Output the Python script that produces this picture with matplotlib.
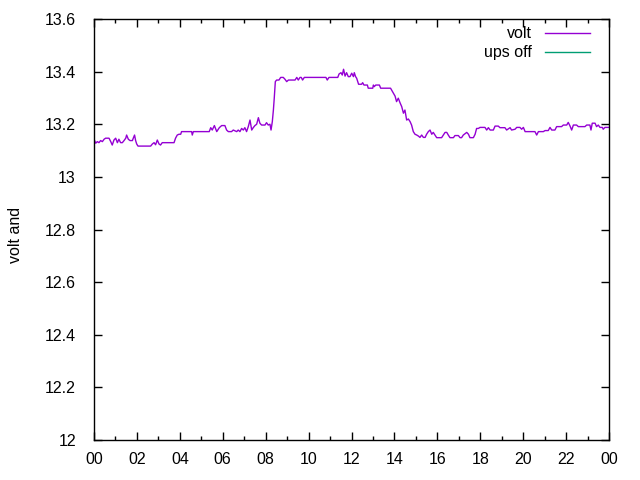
import matplotlib
matplotlib.use("Agg")
import matplotlib.pyplot as plt
from matplotlib.lines import Line2D
from matplotlib.ticker import MultipleLocator, FuncFormatter

plt.rcParams['font.family'] = ['Liberation Sans', 'DejaVu Sans']

# hour of day, battery voltage
hours = [
    0.00, 0.08, 0.155, 0.23, 0.31, 0.39, 0.47, 0.54, 0.62, 0.70, 0.78, 0.85, 0.93, 1.01,
    1.09, 1.16, 1.24, 1.32, 1.40, 1.48, 1.52, 1.60, 1.68, 1.79, 1.83, 1.89, 1.94, 1.99,
    2.05, 2.10, 2.64, 2.72, 2.80, 2.87, 2.95, 3.03, 3.10, 3.18, 3.26, 3.73, 3.80, 3.88,
    3.96, 4.04, 4.08, 4.55, 4.58, 4.63, 5.37, 5.44, 5.51, 5.61, 5.72, 5.84, 5.95, 6.10,
    6.18, 6.26, 6.41, 6.49, 6.65, 6.72, 6.80, 6.88, 6.96, 7.03, 7.11, 7.19, 7.27, 7.35,
    7.42, 7.50, 7.58, 7.66, 7.73, 7.81, 7.97, 8.04, 8.12, 8.20, 8.25, 8.31, 8.36, 8.40,
    8.45, 8.51, 8.62, 8.70, 8.82, 8.90, 8.98, 9.06, 9.37, 9.45, 9.52, 9.60, 9.66, 9.72,
    9.80, 10.81, 10.87, 10.95, 11.36, 11.42, 11.51, 11.57, 11.63, 11.70, 11.77, 11.85,
    11.93, 12.01, 12.09, 12.13, 12.19, 12.24, 12.29, 12.33, 12.47, 12.52, 12.58, 12.74,
    12.78, 12.99, 13.02, 13.06, 13.13, 13.30, 13.36, 13.82, 13.87, 13.95, 14.03, 14.10,
    14.18, 14.26, 14.34, 14.42, 14.49, 14.57, 14.65, 14.73, 14.80, 14.88, 14.96, 15.04,
    15.12, 15.19, 15.27, 15.35, 15.43, 15.50, 15.58, 15.66, 15.74, 15.81, 15.89, 15.97,
    16.20, 16.36, 16.44, 16.51, 16.59, 16.75, 16.82, 16.98, 17.06, 17.13, 17.21, 17.37,
    17.45, 17.52, 17.68, 17.76, 17.83, 17.91, 17.99, 18.22, 18.30, 18.38, 18.46, 18.61,
    18.69, 18.84, 18.92, 19.15, 19.23, 19.39, 19.46, 19.62, 19.70, 19.85, 19.93, 20.01,
    20.09, 20.55, 20.63, 20.71, 20.94, 21.02, 21.17, 21.25, 21.33, 21.48, 21.56, 21.79,
    21.87, 22.03, 22.10, 22.18, 22.26, 22.34, 22.49, 22.57, 22.88, 22.96, 23.11, 23.16,
    23.22, 23.35, 23.42, 23.50, 23.58, 23.69, 23.73, 23.81, 24.00,
]
volts = [
    13.143, 13.128, 13.134, 13.130, 13.138, 13.134, 13.143, 13.147, 13.147, 13.147, 13.134, 13.121, 13.140, 13.147,
    13.130, 13.143, 13.130, 13.130, 13.138, 13.147, 13.159, 13.143, 13.138, 13.138, 13.147, 13.159, 13.138, 13.125,
    13.117, 13.117, 13.117, 13.125, 13.130, 13.122, 13.140, 13.125, 13.121, 13.130, 13.130, 13.130, 13.147, 13.159,
    13.162, 13.162, 13.172, 13.172, 13.159, 13.172, 13.172, 13.187, 13.178, 13.195, 13.172, 13.187, 13.195, 13.195,
    13.178, 13.172, 13.172, 13.178, 13.172, 13.178, 13.172, 13.184, 13.178, 13.187, 13.172, 13.191, 13.216, 13.178,
    13.187, 13.195, 13.200, 13.225, 13.204, 13.197, 13.197, 13.206, 13.197, 13.200, 13.178, 13.210, 13.254, 13.299,
    13.362, 13.368, 13.368, 13.378, 13.378, 13.371, 13.362, 13.368, 13.368, 13.378, 13.368, 13.378, 13.378, 13.368,
    13.378, 13.378, 13.368, 13.378, 13.378, 13.391, 13.396, 13.387, 13.409, 13.383, 13.396, 13.381,
    13.381, 13.394, 13.381, 13.396, 13.381, 13.375, 13.362, 13.352, 13.352, 13.358, 13.349, 13.349,
    13.337, 13.337, 13.349, 13.343, 13.349, 13.349, 13.337, 13.337, 13.330, 13.318, 13.307, 13.286,
    13.299, 13.282, 13.267, 13.242, 13.254, 13.216, 13.220, 13.210, 13.197, 13.172, 13.162, 13.159,
    13.155, 13.150, 13.159, 13.150, 13.150, 13.162, 13.172, 13.178, 13.162, 13.169, 13.159, 13.149,
    13.149, 13.169, 13.169, 13.159, 13.149, 13.149, 13.157, 13.157, 13.149, 13.149, 13.159, 13.169,
    13.162, 13.149, 13.149, 13.162, 13.184, 13.184, 13.188, 13.188, 13.178, 13.187, 13.178, 13.178,
    13.193, 13.193, 13.187, 13.187, 13.178, 13.187, 13.178, 13.181, 13.188, 13.188, 13.181, 13.188,
    13.172, 13.172, 13.159, 13.172, 13.172, 13.176, 13.176, 13.188, 13.178, 13.178, 13.191, 13.191,
    13.197, 13.197, 13.207, 13.194, 13.178, 13.197, 13.197, 13.191, 13.191, 13.197, 13.197, 13.178,
    13.204, 13.204, 13.191, 13.197, 13.188, 13.188, 13.181, 13.188, 13.188,
]
ups_hours = []
ups_volts = []

xticks = list(range(0, 25, 2))
xticklabels = ["%02d" % (h % 24) for h in xticks]

fig = plt.figure(figsize=(6.4, 4.8), dpi=100)
ax = fig.add_axes([94/640, 40/480, 515/640, 421/480])

ax.plot(hours, volts, color='#9400D3', lw=1.0)
ax.plot(ups_hours, ups_volts, color='#009E73', lw=1.0)

ax.set_xlim(0, 24)
ax.set_ylim(12, 13.6)
ax.set_xticks(xticks)
ax.set_xticklabels(xticklabels)
ax.xaxis.set_minor_locator(MultipleLocator(1))
ax.set_yticks([12, 12.2, 12.4, 12.6, 12.8, 13, 13.2, 13.4, 13.6])
ax.yaxis.set_major_formatter(FuncFormatter(lambda v, p: "%g" % round(v, 1)))
ax.tick_params(direction='in', which='both', top=True, right=True, labelsize=11.5)
ax.tick_params(axis='x', which='both', pad=9)
ax.tick_params(axis='y', which='both', pad=13)
ax.tick_params(which='major', length=6, width=1)
ax.tick_params(which='minor', length=3, width=1)
for s in ax.spines.values():
    s.set_linewidth(1)

fig.text(15/640, 1 - 235/480, "volt and", rotation=90, ha='center', va='center', fontsize=11.5)

# key
for i, (lab, col) in enumerate([("volt", '#9400D3'), ("ups off", '#009E73')]):
    yk = (440 - (33 + 19 * i)) / 421
    ax.text(0.8505, yk, lab, transform=ax.transAxes, ha='right', va='center', fontsize=11.5)
    ax.add_line(Line2D([0.8757, 0.963], [yk, yk], transform=ax.transAxes, color=col, lw=1.0))

fig.savefig("out.png", dpi=100)
